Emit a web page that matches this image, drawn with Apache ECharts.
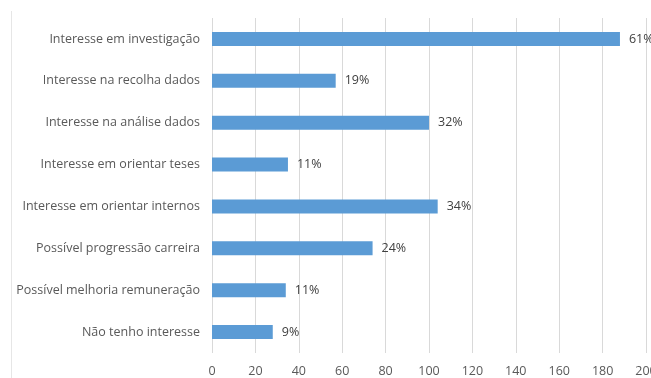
<!DOCTYPE html>
<html>
<head>
<meta charset="utf-8">
<script src="https://cdn.jsdelivr.net/npm/echarts@6/dist/echarts.min.js"></script>
<style>
  html, body { margin: 0; padding: 0; background: #fff; }
  #chart { width: 651px; height: 378px; }
</style>
</head>
<body>
<div id="chart"></div>
<script>
// categories top to bottom as shown
const categories = [
  'Interesse em investigação',
  'Interesse na recolha dados',
  'Interesse na análise dados',
  'Interesse em orientar teses',
  'Interesse em orientar internos',
  'Possível progressão carreira',
  'Possível melhoria remuneração',
  'Não tenho interesse'
];
const counts = [188, 57, 100, 35, 104, 74, 34, 28];
const pctLabels = ['61%', '19%', '32%', '11%', '34%', '24%', '11%', '9%'];
const xTicks = { min: 0, max: 200, interval: 20 };

const chartDom = document.getElementById('chart');
const myChart = echarts.init(chartDom);

const font = '"Open Sans", "Liberation Sans", sans-serif';

const option = {
  animation: false,
  grid: { left: 212, right: 5, top: 18, bottom: 25, containLabel: false, outerBoundsMode: 'none' },
  xAxis: {
    type: 'value',
    min: xTicks.min,
    max: xTicks.max,
    interval: xTicks.interval,
    axisLine: { show: false },
    axisTick: { show: false },
    axisLabel: { color: '#595959', fontSize: 12.5, fontFamily: font, margin: 12 },
    splitLine: { show: true, lineStyle: { color: '#d9d9d9', width: 1 } }
  },
  yAxis: {
    type: 'category',
    inverse: true,
    data: categories,
    axisLine: { show: false },
    axisTick: { show: false },
    axisLabel: { color: '#595959', fontSize: 12.5, fontFamily: font, margin: 12 }
  },
  series: [
    {
      type: 'bar',
      data: counts,
      barWidth: 14,
      itemStyle: { color: '#5b9bd5' },
      label: {
        show: true,
        position: 'right',
        distance: 9,
        color: '#404040',
        fontSize: 12.5,
        fontFamily: font,
        formatter: p => pctLabels[p.dataIndex]
      }
    }
  ],
  graphic: [
    {
      type: 'line',
      shape: { x1: 11.5, y1: 11, x2: 11.5, y2: 378 },
      style: { stroke: '#e6e6e6', lineWidth: 1 }
    }
  ]
};

option && myChart.setOption(option);
</script>
</body>
</html>
